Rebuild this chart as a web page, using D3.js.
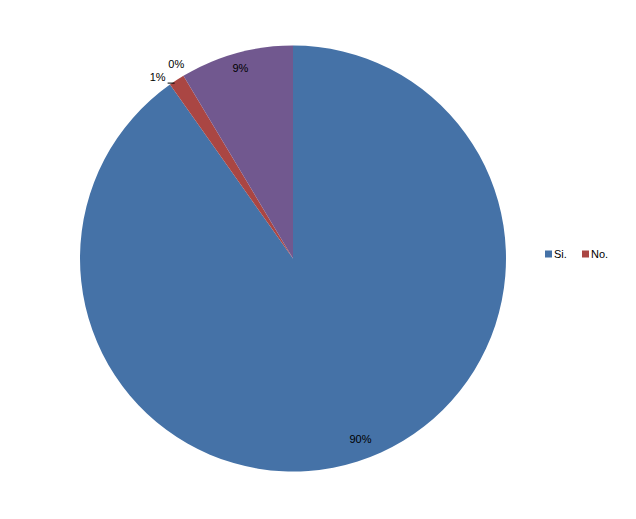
<!DOCTYPE html>
<html>
<head>
<meta charset="utf-8">
<script src="https://cdn.jsdelivr.net/npm/d3@7"></script>
<style>
body{margin:0;background:#fff;}
text{font-family:"Liberation Sans",Arial,sans-serif;font-size:11px;fill:#000;}
</style>
</head>
<body>
<svg id="chart" width="636" height="519"></svg>
<script>
var categories = ["Si.", "No.", "", ""];//only the first two show in the legend
var values = [90.2, 1.2, 0, 8.6];//percent of each slice
var labels = ["90%", "1%", "0%", "9%"];
var colors = ["#4572A7", "#AA4643", "#89A54E", "#71588F"];

var svg = d3.select("#chart");
var cx = 293, cy = 258.5, radius = 213;
var g = svg.append("g").attr("transform", "translate(" + cx + "," + cy + ")");

var pie = d3.pie().sort(null).value(function(d){ return d; });
var arcs = pie(values);
var arc = d3.arc().innerRadius(0).outerRadius(radius);

g.selectAll("path")
  .data(arcs.filter(function(d){ return d.value > 0; }))
  .enter().append("path")
  .attr("d", arc)
  .attr("fill", function(d){ return colors[d.index]; });

//inside labels for the big slices, outside for the small ones
function pt(a, r){ return [Math.sin(a) * r, -Math.cos(a) * r]; }
arcs.forEach(function(d, i){
  var mid = (d.startAngle + d.endAngle) / 2;
  if (i == 0) {
    var p = pt(mid - 0.05, radius * 0.905);
    g.append("text").attr("x", p[0]).attr("y", p[1]).attr("dy", "0.35em").attr("text-anchor", "middle").text(labels[i]);
  } else if (i == 3) {
    var p = pt(mid, radius * 0.925);
    g.append("text").attr("x", p[0]).attr("y", p[1]).attr("dy", "0.35em").attr("text-anchor", "middle").text(labels[i]);
  } else if (i == 2) {
    var p = pt(mid, radius + 14);
    g.append("text").attr("x", p[0]).attr("y", p[1]).attr("dy", "0.35em").attr("text-anchor", "middle").text(labels[i]);
  } else {
    var e = pt(mid, radius);
    g.append("line")
      .attr("x1", e[0] - 9).attr("x2", e[0] - 2)
      .attr("y1", e[1] + 3).attr("y2", e[1] + 3)
      .attr("stroke", "#000").attr("stroke-width", 1);
    g.append("text").attr("x", e[0] - 11).attr("y", e[1] - 3).attr("dy", "0.35em").attr("text-anchor", "end").text(labels[i]);
  }
});

//legend
var legend = svg.append("g").attr("transform", "translate(545,254)");
var item = legend.selectAll("g")
  .data(categories.slice(0, 2))
  .enter().append("g")
  .attr("transform", function(d, i){ return "translate(" + i * 37 + ",0)"; });
item.append("rect").attr("x", 0).attr("y", -3.5).attr("width", 7).attr("height", 7)
  .attr("fill", function(d, i){ return colors[i]; });
item.append("text").attr("x", 9).attr("y", 0).attr("dy", "0.35em").text(function(d){ return d; });
</script>
</body>
</html>
